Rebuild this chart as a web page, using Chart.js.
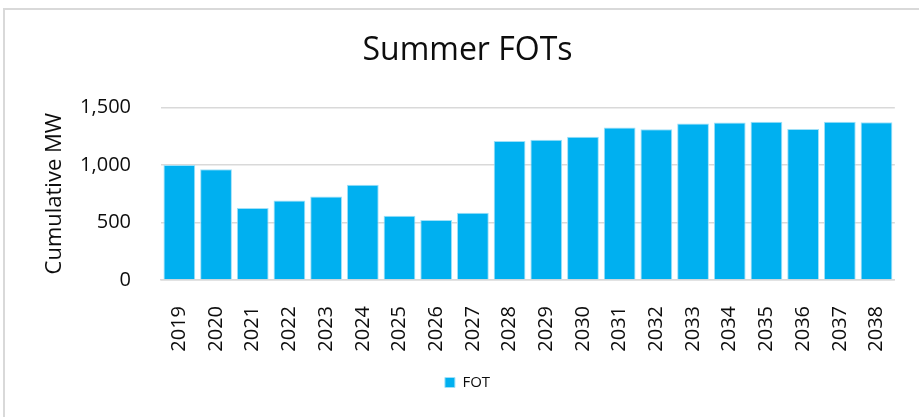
<!DOCTYPE html>
<html>
<head>
<meta charset="utf-8">
<script src="https://cdn.jsdelivr.net/npm/chart.js@4.4.1/dist/chart.umd.min.js"></script>
<style>
  html, body { margin: 0; padding: 0; background: #fff; overflow: hidden; }
  #wrap { position: relative; width: 919px; height: 417px; }
  #frame {
    position: absolute; left: 3px; top: 8px; width: 1000px; height: 1000px;
    border: 2px solid #d9d9d9; box-sizing: border-box;
  }
  canvas { position: absolute; left: 0; top: 0; }
</style>
</head>
<body>
<div id="wrap">
  <div id="frame"></div>
  <canvas id="fot-chart" width="919" height="417"></canvas>
</div>
<script>
// chart data
const years = ['2019', '2020', '2021', '2022', '2023', '2024', '2025', '2026', '2027', '2028',
  '2029', '2030', '2031', '2032', '2033', '2034', '2035', '2036', '2037', '2038'];
const fotValues = [1000, 963, 626, 690, 725, 828, 559, 521, 585, 1208,
  1219, 1246, 1325, 1310, 1360, 1368, 1375, 1313, 1375, 1372];
const yTicks = [0, 500, 1000, 1500];

const FONT = "'Open Sans', 'DejaVu Sans', sans-serif";
const TEXT = '#0d0d0d';

const ctx = document.getElementById('fot-chart').getContext('2d');

new Chart(ctx, {
  type: 'bar',
  data: {
    labels: years,
    datasets: [
      {
        label: 'FOT',
        data: fotValues,
        backgroundColor: '#00B0F0',
        borderColor: '#9fe0f8',
        borderWidth: 1,
        categoryPercentage: 1,
        barPercentage: 0.866,
      },
    ],
  },
  options: {
    responsive: false,
    animation: false,
    layout: { padding: { left: 36, right: 20, top: 0, bottom: 17 } },
    plugins: {
      title: {
        display: true,
        text: 'Summer FOTs',
        color: TEXT,
        font: { family: FONT, size: 32, weight: 'normal', lineHeight: 1.2 },
        padding: { top: 32, bottom: 37 },
      },
      legend: {
        position: 'bottom',
        labels: {
          color: TEXT,
          boxWidth: 10,
          boxHeight: 10,
          padding: 10,
          font: { family: FONT, size: 15 },
        },
      },
      tooltip: { enabled: false },
    },
    scales: {
      x: {
        grid: { display: false },
        border: { display: true, color: '#d9d9d9', width: 1.5 },
        ticks: {
          color: TEXT,
          font: { family: FONT, size: 20 },
          minRotation: 90,
          maxRotation: 90,
          padding: 18,
          autoSkip: false,
        },
        afterFit: (scale) => { scale.height = 85; },
      },
      y: {
        min: 0,
        max: 1500,
        afterBuildTicks: (scale) => { scale.ticks = yTicks.map((v) => ({ value: v })); },
        grid: { color: '#d9d9d9', lineWidth: 1.5, drawTicks: false },
        border: { display: false },
        ticks: {
          color: TEXT,
          font: { family: FONT, size: 20 },
          padding: 30,
          callback: (v) => Number(v).toLocaleString('en-US'),
        },
        title: {
          display: true,
          text: 'Cumulative MW',
          color: TEXT,
          font: { family: FONT, size: 22, lineHeight: 1.2 },
          padding: { top: 6, bottom: 0 },
        },
        afterFit: (scale) => { scale.width = 125; },
      },
    },
  },
});
</script>
</body>
</html>
